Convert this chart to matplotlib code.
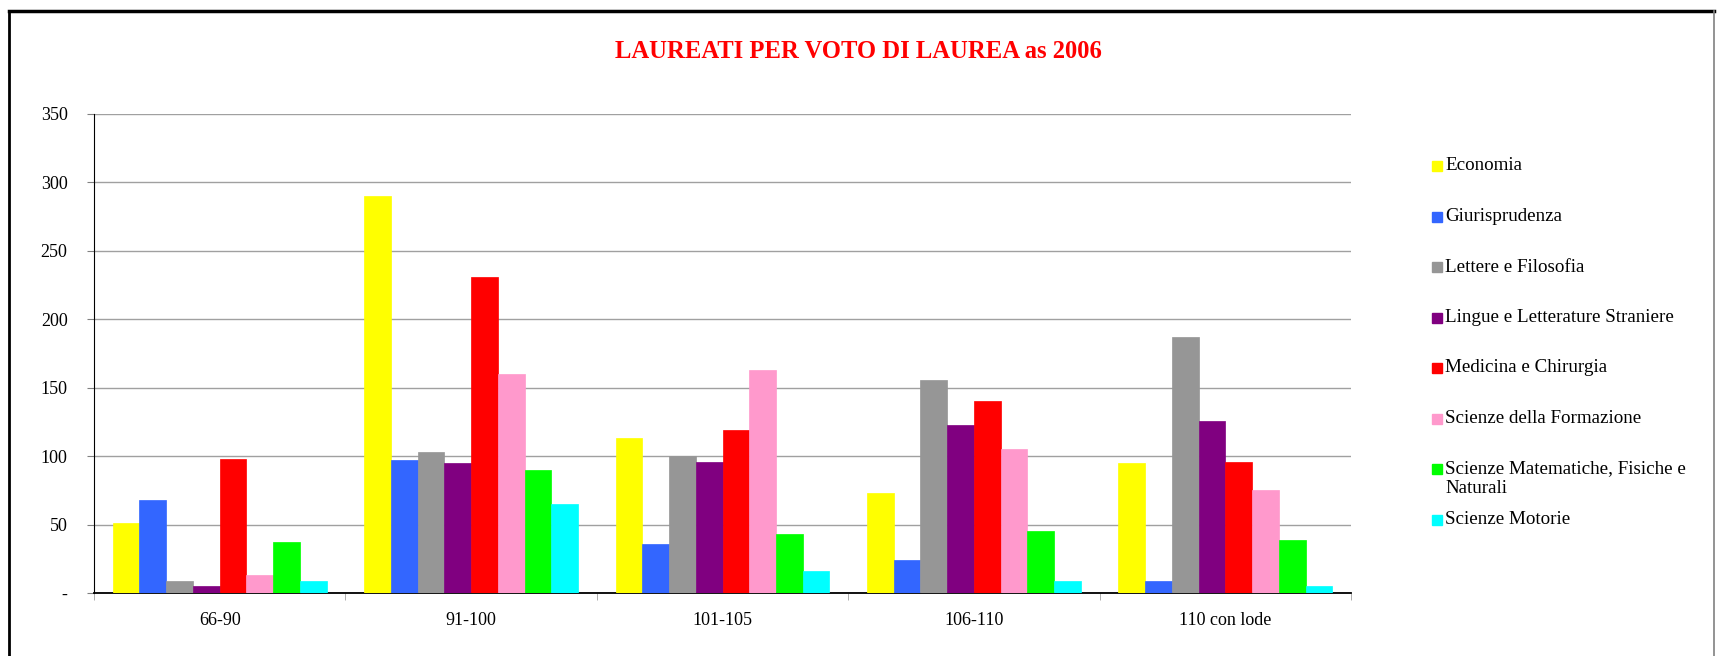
import numpy as np
import matplotlib
matplotlib.use("Agg")
import matplotlib.pyplot as plt
from matplotlib.lines import Line2D
from matplotlib.patches import Rectangle

categories = ["66-90", "91-100", "101-105", "106-110", "110 con lode"]
series = ["Economia", "Giurisprudenza", "Lettere e Filosofia",
          "Lingue e Letterature Straniere", "Medicina e Chirurgia",
          "Scienze della Formazione",
          "Scienze Matematiche, Fisiche e\nNaturali", "Scienze Motorie"]
economia = [51, 290, 113, 73, 95]
giurisprudenza = [68, 97, 36, 24, 9]
lettere = [9, 103, 100, 156, 187]
lingue = [5, 95, 96, 123, 126]
medicina = [98, 231, 119, 140, 96]
formazione = [13, 160, 163, 105, 75]
matematiche = [37, 90, 43, 45, 39]
motorie = [9, 65, 16, 9, 5]
values = [economia, giurisprudenza, lettere, lingue, medicina,
          formazione, matematiche, motorie]
colors = ["#FFFF00", "#3366FF", "#969696", "#800080", "#FF0000",
          "#FF99CC", "#00FF00", "#00FFFF"]
yticks = [0, 50, 100, 150, 200, 250, 300, 350]
ytick_labels = ["-", "50", "100", "150", "200", "250", "300", "350"]

plt.rcParams["font.family"] = ["Liberation Serif", "DejaVu Serif"]

W, H = 1721, 656
fig = plt.figure(figsize=(W / 100, H / 100), dpi=100)
ax = fig.add_axes([94 / W, 1 - 593 / H, (1351 - 94) / W, (593 - 114) / H])

n = len(series)
bw = 1.0 / (n + 1.4)
x = np.arange(len(categories))
for i, (vals, c) in enumerate(zip(values, colors)):
    ax.bar(x + (i - (n - 1) / 2) * bw, vals, width=bw, color=c,
           edgecolor=c, linewidth=0.5, zorder=3)

ax.set_xlim(-0.5, len(categories) - 0.5)
ax.set_ylim(0, 350)
ax.set_yticks(yticks)
ax.set_yticklabels(ytick_labels, fontsize=13)
ax.set_xticks(x)
ax.set_xticklabels(categories, fontsize=13)
ax.set_xticks(np.arange(len(categories) + 1) - 0.5, minor=True)
ax.tick_params(axis="x", which="major", length=0, pad=14)
ax.tick_params(axis="x", which="minor", length=5, color="#A0A0A0", direction="out")
ax.tick_params(axis="y", length=5, color="#808080", pad=14)
ax.grid(axis="y", color="#A0A0A0", lw=1.0, zorder=0)
for s in ["top", "right"]:
    ax.spines[s].set_visible(False)
ax.spines["left"].set_color("black")
ax.spines["bottom"].set_color("black")
ax.spines["bottom"].set_linewidth(1.3)

fig.text(858 / W, 1 - 51 / H, "LAUREATI PER VOTO DI LAUREA as 2006",
         color="#FF0000", fontsize=17.7, fontweight="bold",
         ha="center", va="center")

# legend drawn by hand to keep Excel-like spacing
lx, ly0, dy = 1432, 166, 50.5
for i, (name, c) in enumerate(zip(series, colors)):
    yc = ly0 + i * dy
    fig.patches.append(Rectangle((lx / W, 1 - (yc + 5) / H), 10 / W, 10 / H,
                                 transform=fig.transFigure, color=c))
    fig.text((lx + 13) / W, 1 - (yc - 8.5) / H, name, fontsize=13.7,
             ha="left", va="top", linespacing=1.2)

# chart frame
fig.add_artist(Line2D([9 / W, 1714 / W], [1 - 11 / H, 1 - 11 / H], color="black", lw=2.5))
fig.add_artist(Line2D([9 / W, 9 / W], [1 - 11 / H, 0], color="black", lw=2))
fig.add_artist(Line2D([1714 / W, 1714 / W], [1 - 11 / H, 0], color="#808080", lw=1.2))

fig.savefig("out.png", dpi=100)
